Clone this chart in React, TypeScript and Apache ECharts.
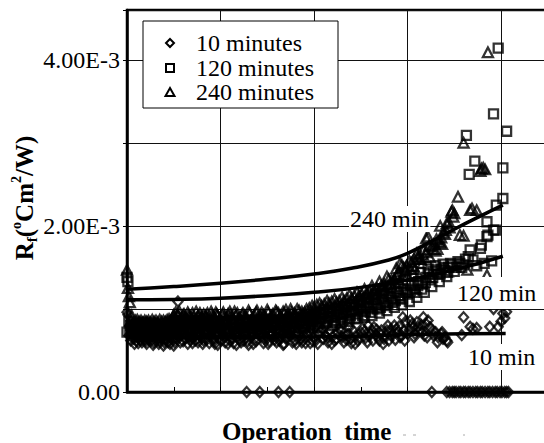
import React, { useEffect, useRef } from "react";
import * as echarts from "echarts";

// x: operation time (hours, axis labels not shown), y: Rf in 1e-3 ºCm²/W
const seriesNames = ["10 minutes", "120 minutes", "240 minutes"];
const curveLabels = ["240 min", "120 min", "10 min"];
const yTickLabels: Record<number, string> = { 0: "0.00", 2: "2.00E-3", 4: "4.00E-3" };

const rf10min: number[][] = [
  [0, 0.96], [1, 0.93], [3, 0.8], [5, 0.7], [7, 0.64], [10, 0.62], [13, 0.66], [16, 0.6], [19, 0.63],
  [22, 0.68], [25, 0.61], [28, 0.57], [31, 0.62], [34, 0.58], [37, 0.65], [40, 0.6], [43, 0.67],
  [46, 0.58], [49, 0.63], [52, 0.7], [54.5, 1.09], [56, 0.66], [60, 0.61], [64, 0.68], [68, 0.63],
  [72, 0.66], [76, 0.6], [80, 0.65], [84, 0.69], [88, 0.59], [92, 0.64], [96, 0.67], [100, 0.62],
  [104, 0.66], [108, 0.58], [112, 0.65], [116, 0.68], [120, 0.63], [124, 0.66], [128, 0], [129, 0.61],
  [133, 0.67], [137, 0.64], [142, 0], [142, 0.69], [146, 0.59], [150, 0.65], [154, 0.68], [158, 0.63],
  [162, 0], [162, 0.66], [166, 0.7], [170, 0.64], [174, 0], [175, 0.67], [180, 0.62], [185, 0.68],
  [190, 0.65], [196, 0.59], [200, 0.66], [205, 0.7], [210, 0.64], [215, 0.6], [220, 0.67], [225, 0.71],
  [230, 0.66], [235, 0.63], [238, 0.78], [240, 0.59], [245, 0.68], [250, 0.72], [255, 0.65], [258, 0.8],
  [262, 0.74], [266, 0.69], [270, 0.62], [274, 0.58], [278, 0.74], [282, 0.75], [286, 0.8], [290, 0.72],
  [295, 0.9], [298, 0.85], [303, 0.86], [306, 0.78], [310, 0.84], [313, 0.74], [317, 0.9], [320, 0.82],
  [324, 0.78], [326, 0], [328, 0.68], [333, 0.66], [338, 0.64], [342, 0.62], [343, 0.6], [358, 0.685],
  [360, 0.9], [367, 0.785], [370, 0.76], [374, 0.77], [388, 0.785], [392, 1.0], [397, 0.785],
  [400, 0.85], [402, 0.946], [404, 0.89], [406, 0.965],
  [6, 0.74], [9, 0.69], [12, 0.59], [15, 0.72], [18, 0.66], [21, 0.58], [24, 0.73], [27, 0.67],
  [30, 0.7], [33, 0.64], [36, 0.72], [39, 0.56], [42, 0.62], [45, 0.71], [48, 0.66], [51, 0.6],
  [55, 0.74], [58, 0.69], [62, 0.64], [66, 0.72], [70, 0.59], [74, 0.7], [78, 0.67], [82, 0.62],
  [86, 0.73], [90, 0.68], [94, 0.58], [98, 0.71], [102, 0.69], [106, 0.73], [110, 0.62], [114, 0.59],
  [118, 0.72], [122, 0.6], [126, 0.7], [131, 0.74], [135, 0.58], [139, 0.71], [144, 0.66], [148, 0.73],
  [152, 0.61], [156, 0.7], [160, 0.6], [164, 0.73], [168, 0.58], [172, 0.71], [177, 0.6], [182, 0.72],
  [187, 0.6], [192, 0.71], [198, 0.74], [202, 0.62], [207, 0.73], [212, 0.68], [217, 0.74], [222, 0.62],
  [227, 0.76], [232, 0.6], [237, 0.7], [242, 0.74], [247, 0.62], [252, 0.77], [257, 0.6], [260, 0.7],
  [264, 0.78], [268, 0.66], [272, 0.74], [276, 0.68], [280, 0.62], [284, 0.7], [288, 0.76], [292, 0.66],
  [296, 0.74], [300, 0.7], [305, 0.82], [308, 0.7], [315, 0.8], [318, 0.68], [322, 0.86], [330, 0.72],
  [336, 0.7], [340, 0.66],
  [2, 0.68], [4, 0.62], [8, 0.58], [11, 0.71], [14, 0.63], [17, 0.7], [20, 0.61], [23, 0.64], [26, 0.7],
  [29, 0.6], [32, 0.67], [35, 0.61], [38, 0.7], [41, 0.64], [44, 0.6], [47, 0.69], [50, 0.56], [53, 0.65],
  [57, 0.6], [61, 0.71], [65, 0.58], [69, 0.67], [73, 0.62], [77, 0.72], [81, 0.58], [85, 0.63], [89, 0.7],
  [93, 0.61], [97, 0.57], [101, 0.72], [105, 0.6], [109, 0.68], [113, 0.72], [117, 0.57], [121, 0.69],
  [125, 0.62], [130, 0.57], [134, 0.72], [138, 0.61], [143, 0.72], [147, 0.64], [151, 0.58], [155, 0.71],
  [159, 0.67], [163, 0.62], [167, 0.57], [171, 0.68], [176, 0.73], [181, 0.58], [186, 0.64], [191, 0.59],
  [195, 0.73], [199, 0.61], [204, 0.58], [209, 0.75], [214, 0.66], [219, 0.58], [224, 0.64], [229, 0.74],
  [234, 0.68], [239, 0.64], [244, 0.58], [249, 0.66], [254, 0.73], [259, 0.67], [263, 0.62], [267, 0.75],
  [271, 0.7], [275, 0.64], [279, 0.8], [283, 0.67], [287, 0.63], [291, 0.79], [294, 0.68], [297, 0.62],
  [302, 0.75], [307, 0.66], [311, 0.79], [316, 0.72], [321, 0.66], [327, 0.74], [332, 0.6], [337, 0.72],
  [342, 0], [345, 0], [348, 0], [350, 0], [352, 0], [355, 0], [357, 0], [360, 0], [362, 0], [365, 0],
  [367, 0], [370, 0], [373, 0], [375, 0], [378, 0], [380, 0], [383, 0], [386, 0], [388, 0], [391, 0],
  [394, 0], [396, 0], [399, 0], [401, 0], [404, 0], [406, 0], [408, 0],
];

const rf120min: number[][] = [
  [0, 1.38], [1, 1.33], [0, 0.72], [2, 0.85], [4, 0.8], [6, 0.76], [9, 0.72], [12, 0.78], [15, 0.74],
  [18, 0.7], [21, 0.76], [24, 0.8], [27, 0.73], [30, 0.69], [33, 0.75], [36, 0.79], [39, 0.72],
  [42, 0.77], [45, 0.7], [48, 0.82], [51, 0.86], [54, 0.8], [58, 0.76], [62, 0.83], [66, 0.78],
  [70, 0.74], [74, 0.81], [78, 0.77], [82, 0.73], [86, 0.8], [90, 0.76], [94, 0.71], [98, 0.78],
  [102, 0.82], [106, 0.75], [110, 0.72], [114, 0.79], [118, 0.76], [122, 0.81], [126, 0.74],
  [130, 0.78], [134, 0.72], [138, 0.8], [142, 0.76], [146, 0.83], [150, 0.78], [154, 0.74],
  [158, 0.81], [162, 0.77], [166, 0.84], [170, 0.79], [174, 0.75], [178, 0.82], [182, 0.8],
  [186, 0.86], [190, 0.83], [194, 0.78], [198, 0.85], [202, 0.92], [206, 0.83], [210, 0.95],
  [214, 0.85], [218, 0.97], [222, 0.86], [226, 1.0], [230, 0.87], [234, 1.03], [238, 0.88],
  [242, 1.06], [246, 0.89], [250, 1.1], [254, 0.9], [258, 1.14], [262, 0.92], [266, 1.18],
  [270, 0.95], [274, 1.22], [278, 0.98], [282, 1.26], [286, 1.02], [290, 1.3], [294, 1.05],
  [298, 1.35], [302, 1.09], [306, 1.4], [310, 1.14], [314, 1.44], [318, 1.2], [322, 1.48],
  [326, 1.27], [330, 1.52], [334, 1.33], [338, 1.54], [342, 1.39], [346, 1.55], [350, 1.45],
  [354, 1.57], [358, 1.5], [362, 1.6], [365, 1.63], [367, 1.71], [370, 1.59], [374, 1.52],
  [378, 1.73], [379, 1.77], [382, 1.55], [385, 1.87], [385, 2.05], [386, 1.89], [390, 1.58],
  [392, 1.95], [394, 1.95], [395, 2.25], [402, 2.33], [363, 3.09], [366, 2.62], [372, 2.78],
  [392, 3.35], [397, 4.14], [402, 2.7], [406, 3.14],
  [3, 0.74], [7, 0.82], [10, 0.68], [14, 0.79], [17, 0.84], [20, 0.71], [23, 0.68], [26, 0.83],
  [29, 0.77], [32, 0.71], [35, 0.68], [38, 0.82], [41, 0.69], [44, 0.8], [47, 0.75], [50, 0.79],
  [53, 0.72], [56, 0.85], [60, 0.7], [64, 0.8], [68, 0.72], [72, 0.86], [76, 0.7], [80, 0.83],
  [84, 0.71], [88, 0.75], [92, 0.84], [96, 0.7], [100, 0.77], [104, 0.85], [108, 0.7], [112, 0.83],
  [116, 0.71], [120, 0.84], [124, 0.7], [128, 0.83], [132, 0.76], [136, 0.7], [140, 0.84], [144, 0.72],
  [148, 0.86], [152, 0.71], [156, 0.84], [160, 0.72], [164, 0.8], [168, 0.73], [172, 0.87], [176, 0.78],
  [180, 0.73], [184, 0.84], [188, 0.76], [192, 0.89], [196, 0.8], [200, 0.87], [204, 0.78], [208, 0.9],
  [212, 0.82], [216, 0.91], [220, 0.8], [224, 0.93], [228, 0.83], [232, 0.96], [236, 0.85], [240, 0.98],
  [244, 0.88], [248, 1.02], [252, 0.92], [256, 1.05], [260, 0.96], [264, 1.08], [268, 1.0], [272, 1.12],
  [276, 1.04], [280, 1.15], [284, 1.08], [288, 1.2], [292, 1.13], [296, 1.24], [300, 1.18], [304, 1.28],
  [308, 1.24], [312, 1.33], [316, 1.3], [320, 1.38], [324, 1.35], [328, 1.45], [332, 1.42], [336, 1.48],
  [340, 1.46], [344, 1.5], [348, 1.53], [352, 1.5], [356, 1.55], [360, 1.53],
  [5, 0.78], [8, 0.74], [11, 0.8], [13, 0.71], [16, 0.77], [19, 0.82], [22, 0.73], [25, 0.77], [28, 0.8],
  [31, 0.74], [34, 0.81], [37, 0.7], [40, 0.78], [43, 0.74], [46, 0.84], [49, 0.77], [52, 0.82], [55, 0.74],
  [59, 0.81], [63, 0.75], [67, 0.84], [71, 0.77], [75, 0.73], [79, 0.8], [83, 0.85], [87, 0.72], [91, 0.8],
  [95, 0.82], [99, 0.73], [103, 0.8], [107, 0.84], [111, 0.76], [115, 0.82], [119, 0.73], [123, 0.78],
  [127, 0.86], [131, 0.72], [135, 0.81], [139, 0.75], [143, 0.8], [147, 0.76], [151, 0.82], [155, 0.78],
  [159, 0.85], [163, 0.74], [167, 0.81], [171, 0.76], [175, 0.84], [179, 0.78], [183, 0.73], [187, 0.82],
  [191, 0.79], [195, 0.86], [199, 0.82], [203, 0.85], [207, 0.88], [211, 0.84], [215, 0.88], [219, 0.9],
  [223, 0.84], [227, 0.94], [231, 0.9], [235, 0.94], [239, 0.92], [243, 0.97], [247, 0.94], [251, 0.99],
  [255, 0.97], [259, 1.02], [263, 1.0], [267, 1.05], [271, 1.02], [275, 1.08], [279, 1.06], [283, 1.12],
  [287, 1.1], [291, 1.16], [295, 1.12], [299, 1.2], [303, 1.22], [307, 1.2], [311, 1.28], [315, 1.24],
  [319, 1.32], [323, 1.42], [327, 1.38], [331, 1.47], [335, 1.42], [339, 1.5], [343, 1.44],
];

const rf240min: number[][] = [
  [0, 1.47], [1, 1.25], [2, 1.15], [3, 1.08], [5, 0.92], [7, 0.84], [10, 0.8], [13, 0.85], [16, 0.82],
  [19, 0.86], [22, 0.79], [25, 0.84], [28, 0.81], [31, 0.86], [34, 0.8], [37, 0.85], [40, 0.82],
  [43, 0.87], [46, 0.83], [49, 0.9], [52, 0.96], [55, 0.92], [58, 0.89], [61, 0.94], [64, 0.88],
  [67, 0.91], [70, 0.95], [73, 0.87], [76, 0.92], [79, 0.89], [82, 0.94], [85, 0.9], [88, 0.86],
  [91, 0.93], [94, 0.89], [97, 0.92], [100, 0.87], [104, 0.91], [108, 0.94], [112, 0.88],
  [116, 0.92], [120, 0.89], [124, 0.95], [128, 0.9], [132, 0.86], [136, 0.93], [140, 0.9],
  [144, 0.96], [148, 0.91], [152, 0.88], [156, 0.94], [160, 0.97], [164, 0.92], [168, 0.95],
  [172, 0.9], [176, 0.96], [180, 0.93], [184, 0.98], [188, 0.94], [192, 1.0], [196, 0.96],
  [200, 1.02], [204, 0.97], [208, 1.04], [212, 1.0], [216, 1.07], [220, 1.02], [224, 1.08],
  [228, 1.04], [232, 1.1], [236, 1.06], [240, 1.13], [244, 1.08], [248, 1.16], [252, 1.11],
  [256, 1.19], [260, 1.14], [264, 1.22], [268, 1.18], [272, 1.28], [276, 1.22], [278, 1.39],
  [282, 1.3], [286, 1.36], [288, 1.49], [290, 1.42], [292, 1.55], [294, 1.53], [298, 1.47],
  [302, 1.58], [306, 1.52], [310, 1.67], [311, 1.63], [314, 1.6], [317, 1.71], [320, 1.85],
  [322, 1.87], [326, 1.76], [330, 1.7], [333, 1.81], [335, 1.8], [335, 2.0], [338, 1.92],
  [342, 2.03], [345, 1.98], [347, 2.17], [348, 2.19], [349, 2.11], [350, 2.15], [354, 2.35],
  [356, 1.89], [360, 1.88], [360, 3.0], [364, 1.47], [367, 2.19], [369, 2.21], [374, 2.19],
  [378, 2.66], [379, 2.69], [381, 2.7], [383, 2.68], [385, 1.41], [386, 4.09],
  [4, 0.86], [8, 0.8], [11, 0.87], [14, 0.78], [17, 0.84], [20, 0.8], [23, 0.86], [26, 0.78],
  [29, 0.85], [32, 0.8], [35, 0.87], [38, 0.79], [41, 0.85], [44, 0.79], [47, 0.86], [50, 0.93],
  [53, 0.86], [56, 0.97], [59, 0.84], [62, 0.9], [65, 0.96], [68, 0.85], [71, 0.9], [74, 0.97],
  [77, 0.85], [80, 0.91], [83, 0.86], [86, 0.95], [89, 0.84], [92, 0.9], [95, 0.96], [98, 0.85],
  [102, 0.93], [106, 0.86], [110, 0.97], [114, 0.85], [118, 0.95], [122, 0.86], [126, 0.92], [130, 0.98],
  [134, 0.88], [138, 0.96], [142, 0.86], [146, 0.93], [150, 0.99], [154, 0.9], [158, 0.86], [162, 0.95],
  [166, 0.88], [170, 0.99], [174, 0.93], [178, 0.88], [182, 1.0], [186, 0.92], [190, 0.96], [194, 0.9],
  [198, 1.04], [202, 0.95], [206, 1.07], [210, 0.96], [214, 1.1], [218, 0.98], [222, 1.12], [226, 1.0],
  [230, 1.14], [234, 1.02], [238, 1.17], [242, 1.05], [246, 1.2], [250, 1.08], [254, 1.24], [258, 1.12],
  [262, 1.28], [266, 1.15], [270, 1.33], [274, 1.2], [280, 1.36], [284, 1.25], [288, 1.4], [292, 1.32],
  [296, 1.5], [300, 1.4], [304, 1.56], [308, 1.48], [312, 1.6], [316, 1.55], [320, 1.68], [324, 1.62],
  [328, 1.78], [332, 1.72], [336, 1.86], [340, 1.9], [344, 2.05],
  [6, 0.82], [9, 0.86], [12, 0.81], [15, 0.86], [18, 0.79], [21, 0.85], [24, 0.82], [27, 0.87], [30, 0.81],
  [33, 0.84], [36, 0.79], [39, 0.86], [42, 0.81], [45, 0.88], [48, 0.82], [51, 0.89], [54, 0.94], [57, 0.87],
  [60, 0.93], [63, 0.86], [66, 0.93], [69, 0.89], [72, 0.84], [75, 0.9], [78, 0.95], [81, 0.87], [84, 0.92],
  [87, 0.88], [90, 0.97], [93, 0.87], [96, 0.94], [99, 0.89], [103, 0.96], [107, 0.89], [111, 0.93],
  [115, 0.97], [119, 0.88], [123, 0.93], [127, 0.87], [131, 0.95], [135, 0.9], [139, 0.98], [143, 0.92],
  [147, 0.87], [151, 0.96], [155, 0.92], [159, 0.98], [163, 0.89], [167, 0.97], [171, 0.93], [175, 1.0],
  [179, 0.95], [183, 0.9], [187, 0.97], [191, 0.93], [195, 1.01], [199, 0.96], [203, 1.05], [207, 0.99],
  [211, 1.06], [215, 1.01], [219, 1.09], [223, 1.03], [227, 1.1], [231, 1.06], [235, 1.13], [239, 1.08],
  [243, 1.16], [247, 1.12], [251, 1.18], [255, 1.15], [259, 1.22], [263, 1.18], [267, 1.25], [271, 1.22],
  [275, 1.3], [279, 1.28], [283, 1.35], [287, 1.32], [291, 1.45], [295, 1.4], [299, 1.52], [303, 1.48],
  [307, 1.6], [313, 1.66], [318, 1.62], [323, 1.76], [327, 1.72], [331, 1.84], [337, 1.78], [341, 1.95],
];

const fit240: number[][] = [
  [0, 1.238], [50, 1.27], [100, 1.31], [150, 1.36], [200, 1.42], [240, 1.49], [280, 1.59],
  [300, 1.67], [330, 1.84], [350, 1.96], [380, 2.13], [402, 2.25],
];
const fit120: number[][] = [
  [0, 1.11], [50, 1.115], [100, 1.13], [150, 1.16], [200, 1.2], [250, 1.26], [300, 1.35],
  [350, 1.47], [402, 1.635],
];
const fit10: number[][] = [
  [0, 0.66], [100, 0.662], [200, 0.666], [260, 0.675], [320, 0.695], [405, 0.705],
];

const FONT = "Liberation Serif";

export default function App() {
  const ref = useRef<HTMLDivElement>(null);
  useEffect(() => {
    const chart = echarts.init(ref.current!, null, { renderer: "svg" });
    const pt = { color: "rgba(0,0,0,0)", borderColor: "#000", borderWidth: 2.3 };
    const fitLine = (name: string, data: number[][]) => ({
      name,
      type: "line",
      data,
      smooth: true,
      showSymbol: false,
      z: 4,
      lineStyle: { color: "#000", width: 3.5 },
    });
    const legendRows = [43, 68, 92];
    const txt = (text: string, x: number, y: number, extra: any = {}) => ({
      type: "text", z: 101, x, y,
      style: {
        text, fontFamily: FONT, fontSize: 24, fill: "#000",
        align: "left", verticalAlign: "middle", ...extra,
      },
    });
    chart.setOption({
      animation: false,
      backgroundColor: "#fff",
      grid: {
        left: 127, top: 10, bottom: 51, right: 0.5,
        show: true, borderColor: "#000", borderWidth: 2.5,
      },
      xAxis: {
        type: "value", min: 0, max: 500, interval: 100,
        axisLine: { show: true, lineStyle: { color: "#000", width: 2.5 } },
        axisTick: { show: true, inside: true, length: 5, lineStyle: { color: "#000" } },
        minorTick: { show: true, splitNumber: 2, length: 5, lineStyle: { color: "#000", width: 1 } },
        axisLabel: { show: false },
        splitLine: { show: true, lineStyle: { color: "#111", width: 1 } },
      },
      yAxis: {
        type: "value", min: 0, max: 4.6, interval: 1,
        axisLine: { show: true, lineStyle: { color: "#000", width: 2.5 } },
        axisTick: { show: true, inside: false, length: 4, lineStyle: { color: "#000" } },
        axisLabel: {
          margin: 7, color: "#000", fontFamily: FONT, fontSize: 24,
          formatter: (v: number) => yTickLabels[Math.round(v * 10) / 10] ?? "",
        },
        splitLine: { show: true, lineStyle: { color: "#111", width: 1 } },
      },
      series: [
        { name: seriesNames[0], type: "scatter", symbol: "diamond", symbolSize: [9, 10], data: rf10min, itemStyle: pt, z: 3 },
        { name: seriesNames[1], type: "scatter", symbol: "rect", symbolSize: 9, data: rf120min, itemStyle: pt, z: 3 },
        { name: seriesNames[2], type: "scatter", symbol: "triangle", symbolSize: [10, 9.5], data: rf240min, itemStyle: pt, z: 3 },
        fitLine("fit 240", fit240),
        fitLine("fit 120", fit120),
        fitLine("fit 10", fit10),
      ],
      graphic: [
        { type: "rect", z: 100, shape: { x: 143, y: 21, width: 195, height: 87 }, style: { fill: "#fff", stroke: "#000", lineWidth: 1 } },
        { type: "polygon", z: 101, shape: { points: [[170, 39], [174, 43], [170, 47], [166, 43]] }, style: { fill: "none", stroke: "#000", lineWidth: 2 } },
        { type: "rect", z: 101, shape: { x: 166, y: 64, width: 8, height: 8 }, style: { fill: "none", stroke: "#000", lineWidth: 2 } },
        { type: "polygon", z: 101, shape: { points: [[170, 88], [174.5, 96], [165.5, 96]] }, style: { fill: "none", stroke: "#000", lineWidth: 2 } },
        ...seriesNames.map((n, i) => txt(n, 196, legendRows[i])),
        txt(curveLabels[0], 349, 219, { backgroundColor: "#fff", padding: [1, 1, 1, 1] }),
        txt(curveLabels[1], 455, 293, { backgroundColor: "#fff", padding: [4, 5, 4, 2] }),
        txt(curveLabels[2], 467, 357, { backgroundColor: "#fff", padding: [1, 1, 1, 1] }),
        txt("Operation  time", 222, 431, { fontSize: 25, fontWeight: "bold" }),
        { type: "line", z: 101, shape: { x1: 403, y1: 435, x2: 406, y2: 435 }, style: { stroke: "#aaa", lineWidth: 1 } },
        { type: "line", z: 101, shape: { x1: 413, y1: 435, x2: 416, y2: 435 }, style: { stroke: "#aaa", lineWidth: 1 } },
        { type: "line", z: 101, shape: { x1: 463, y1: 435, x2: 465, y2: 435 }, style: { stroke: "#aaa", lineWidth: 1 } },
        {
          type: "text", z: 101, x: 24, y: 198, rotation: Math.PI / 2,
          style: {
            text: "{b|R}{sub|f}{b|(}{sup|o}{b|Cm}{sup|2}{b|/W)}",
            align: "center", verticalAlign: "middle", fill: "#000",
            rich: {
              b: { fontFamily: FONT, fontSize: 25, fontWeight: "bold", lineHeight: 30, verticalAlign: "middle" },
              sub: { fontFamily: FONT, fontSize: 15, fontWeight: "bold", lineHeight: 15, verticalAlign: "bottom" },
              sup: { fontFamily: FONT, fontSize: 14, fontWeight: "bold", lineHeight: 14, verticalAlign: "top" },
            },
          },
        },
      ],
    });
    return () => chart.dispose();
  }, []);
  return (
    <div style={{ position: "fixed", left: 0, top: 0, width: 544, height: 443, overflow: "hidden", background: "#fff" }}>
      <div ref={ref} style={{ width: 595, height: 443 }} />
    </div>
  );
}
